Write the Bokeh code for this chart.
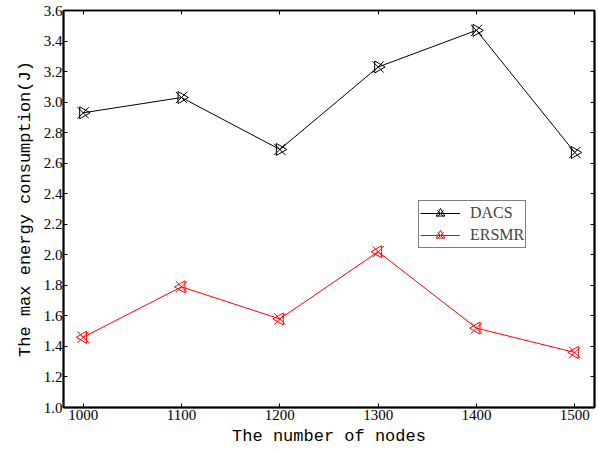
import numpy as np
from bokeh.plotting import figure
from bokeh.models import LinearAxis, Range1d, Legend, LegendItem, FixedTicker, CustomJSTickFormatter
from bokeh.embed import file_html
from bokeh.resources import INLINE

nodes = [1000, 1100, 1200, 1300, 1400, 1500]
dacs = [2.93, 3.03, 2.69, 3.23, 3.47, 2.67]
ersmr = [1.46, 1.79, 1.58, 2.02, 1.52, 1.36]
x_ticks = [1000, 1100, 1200, 1300, 1400, 1500]
y_ticks = [1.0, 1.2, 1.4, 1.6, 1.8, 2.0, 2.2, 2.4, 2.6, 2.8, 3.0, 3.2, 3.4, 3.6]

p = figure(width=599, height=453, output_backend="svg", toolbar_location=None,
           x_range=Range1d(980, 1520), y_range=Range1d(1.0, 3.6),
           min_border_left=63, min_border_right=5, min_border_top=10, min_border_bottom=46)
p.xgrid.visible = False
p.ygrid.visible = False
p.outline_line_color = "black"
p.outline_line_width = 1.5
p.background_fill_color = "white"
p.border_fill_color = "white"

tick_font = "Liberation Serif"
title_font = "Liberation Mono"

for ax in p.xaxis:
    ax.ticker = FixedTicker(ticks=x_ticks)
for ax in p.yaxis:
    ax.ticker = FixedTicker(ticks=y_ticks)
    ax.formatter = CustomJSTickFormatter(code="return tick.toFixed(1);")

for ax in list(p.xaxis) + list(p.yaxis):
    ax.major_tick_in = 4
    ax.major_tick_out = 0
    ax.minor_tick_in = 0
    ax.minor_tick_out = 0
    ax.axis_line_width = 2
    ax.axis_line_color = "black"
    ax.major_tick_line_color = "black"
    ax.major_label_text_font = tick_font
    ax.major_label_text_font_size = "15px"
    ax.major_label_text_color = "black"
    ax.major_label_standoff = 2
    ax.axis_label_text_font = title_font
    ax.axis_label_text_font_size = "17px"
    ax.axis_label_text_font_style = "normal"
    ax.axis_label_text_color = "black"

p.xaxis.axis_label = "The number of nodes"
p.yaxis.axis_label = "The max energy consumption(J)"
p.xaxis.axis_label_standoff = 4
p.yaxis.axis_label_standoff = 6
p.yaxis.major_label_standoff = 1

blank = CustomJSTickFormatter(code="return '';")
top = LinearAxis(ticker=FixedTicker(ticks=x_ticks), formatter=blank,
                 major_tick_in=4, major_tick_out=0, minor_tick_in=0, minor_tick_out=0,
                 axis_line_width=1.5, major_label_standoff=0)
right = LinearAxis(ticker=FixedTicker(ticks=y_ticks), formatter=blank,
                   major_tick_in=4, major_tick_out=0, minor_tick_in=0, minor_tick_out=0,
                   axis_line_width=2, major_label_standoff=0)
p.add_layout(top, "above")
p.add_layout(right, "right")

l1 = p.line(nodes, dacs, line_color="black", line_width=1)
m1a = p.scatter(nodes, dacs, marker="x", size=16, line_color="black", line_width=1)
m1b = p.scatter(nodes, dacs, marker="triangle", size=12, angle=-np.pi / 2,
                line_color="black", fill_color=None, line_width=1)

l2 = p.line(nodes, ersmr, line_color="red", line_width=1)
m2a = p.scatter(nodes, ersmr, marker="x", size=16, line_color="red", line_width=1)
m2b = p.scatter(nodes, ersmr, marker="triangle", size=12, angle=np.pi / 2,
                line_color="red", fill_color=None, line_width=1)

legend = Legend(items=[LegendItem(label="DACS", renderers=[l1, m1a, m1b]),
                       LegendItem(label="ERSMR", renderers=[l2, m2a, m2b])],
                location=(355, 159), label_text_font=tick_font, label_text_font_size="16px",
                border_line_color="black", border_line_width=1, glyph_width=40,
                glyph_height=22, padding=1, spacing=0, margin=0, label_standoff=10,
                label_height=22, background_fill_alpha=1)
p.add_layout(legend, "center")

open("out.html", "w").write(file_html(p, INLINE))
